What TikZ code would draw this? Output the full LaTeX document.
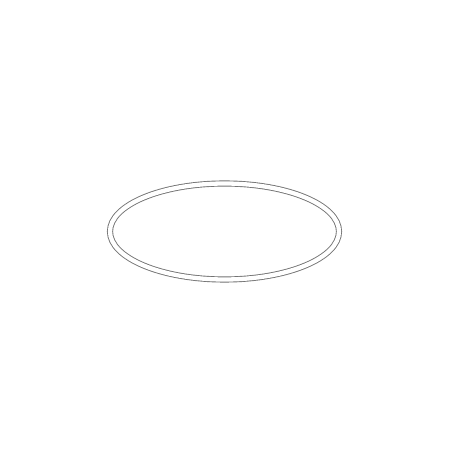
\documentclass[tikz,border=0pt]{standalone}
\usetikzlibrary{shapes.geometric}
\begin{document}
\begin{tikzpicture}[x=1pt,y=1pt,
  ring/.style={ellipse,draw=black!55,double=white,double distance=4.3pt,line width=0.9pt,
    minimum width=229pt,minimum height=96pt,inner sep=0pt}]
\useasboundingbox[fill=white] (0,0) rectangle (452,452);
\node[ring] (e) at (224.5,220.5) {};
\end{tikzpicture}
\end{document}
